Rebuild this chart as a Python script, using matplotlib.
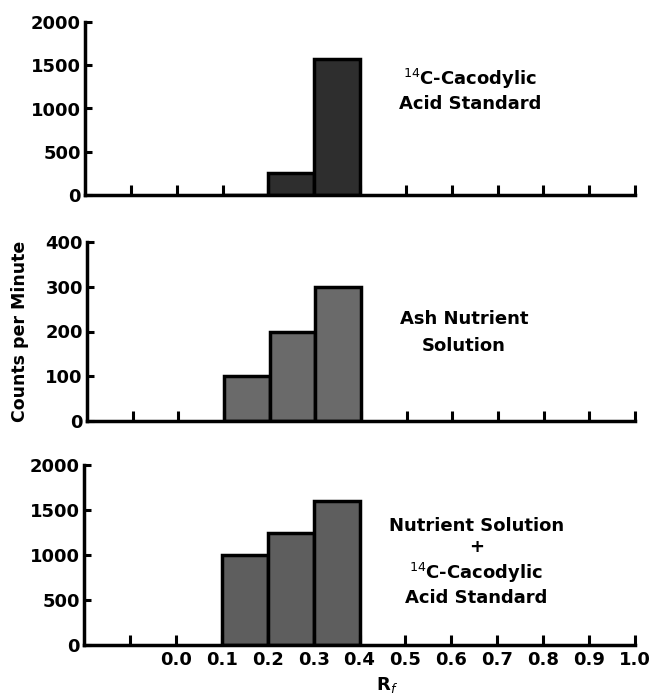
import matplotlib
matplotlib.use("Agg")
import matplotlib.pyplot as plt

# Data
bin_left = [0.1, 0.2, 0.3]
bin_width = 0.1
standard_cpm = [0, 250, 1570]
ash_cpm = [100, 200, 300]
mix_cpm = [1000, 1250, 1600]
xtick_vals = [-0.1, 0.0, 0.1, 0.2, 0.3, 0.4, 0.5, 0.6, 0.7, 0.8, 0.9, 1.0]
xtick_labels = ["", "0.0", "0.1", "0.2", "0.3", "0.4", "0.5", "0.6", "0.7", "0.8", "0.9", "1.0"]

W, H = 651, 697
fig = plt.figure(figsize=(W / 100, H / 100), dpi=100)

def ax_at(x0, x1, ytop, ybot):
    return fig.add_axes([x0 / W, 1 - ybot / H, (x1 - x0) / W, (ybot - ytop) / H])

panels = [
    (ax_at(85, 635, 22, 195), standard_cpm, 2000, [0, 500, 1000, 1500, 2000],
     "$^{14}$C-Cacodylic\nAcid Standard", (0.64, 1215), 1.35, "#2e2e2e"),
    (ax_at(87, 635, 242, 421), ash_cpm, 400, [0, 100, 200, 300, 400],
     "Ash Nutrient\nSolution", (0.625, 198), 1.6, "#6a6a6a"),
    (ax_at(84, 635, 465, 645), mix_cpm, 2000, [0, 500, 1000, 1500, 2000],
     "Nutrient Solution\n+\n$^{14}$C-Cacodylic\nAcid Standard", (0.655, 925), 1.25, "#5e5e5e"),
]

for i, (ax, vals, ymax, yticks, label, (tx, ty), ls, fc) in enumerate(panels):
    ax.bar(bin_left, vals, width=bin_width, align="edge",
           facecolor=fc, edgecolor="black", linewidth=2.5)
    ax.set_xlim(-0.2, 1.0)
    ax.set_ylim(0, ymax)
    for s in ["top", "right"]:
        ax.spines[s].set_visible(False)
    for s in ["left", "bottom"]:
        ax.spines[s].set_linewidth(2.5)
    ax.set_yticks(yticks)
    ax.set_yticklabels([str(v) for v in yticks], fontsize=13, fontweight="bold")
    ax.set_xticks(xtick_vals)
    if i == 2:
        ax.set_xticklabels(xtick_labels, fontsize=13, fontweight="bold")
    else:
        ax.set_xticklabels([])
    ax.tick_params(axis="y", direction="in", length=5, width=2.2, pad=3)
    ax.tick_params(axis="x", direction="in", length=7, width=2.2, pad=4)
    ax.text(tx, ty, label, ha="center", va="center", fontsize=13,
            fontweight="bold", linespacing=ls)

fig.text(387 / W, 1 - 685 / H, "R$_f$", ha="center", va="center",
         fontsize=13, fontweight="bold")
fig.text(20 / W, 1 - 331 / H, "Counts per Minute", rotation=90, ha="center",
         va="center", fontsize=12.5, fontweight="bold")

fig.savefig("out.png", dpi=100)
